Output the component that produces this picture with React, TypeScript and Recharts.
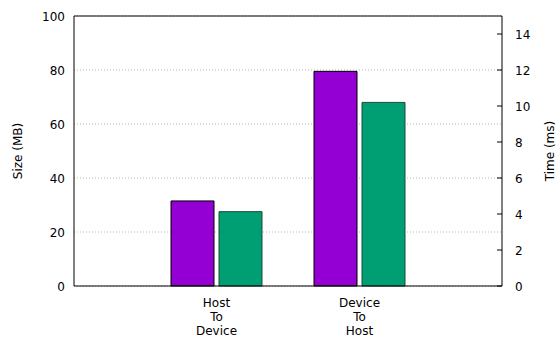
import React from 'react';
import { BarChart, Bar, XAxis, YAxis, CartesianGrid, ReferenceLine } from 'recharts';

const categories = ['Host\nTo\nDevice', 'Device\nTo\nHost'];
const sizeMB = [31.5, 79.5];
const timeMs = [4.13, 10.2];
const leftTicks = [0, 20, 40, 60, 80, 100];
const rightTicks = [0, 2, 4, 6, 8, 10, 12, 14];

const data = categories.map((c, i) => ({ name: c, size: sizeMB[i], time: timeMs[i] }));

const FONT = 'DejaVu Sans';

const XTick = (props: any) => {
  const { x, y, payload } = props;
  const lines = String(payload.value).split('\n');
  return (
    <text x={x} y={y} textAnchor="middle" fontFamily={FONT} fontSize={12} fill="#000">
      {lines.map((l, i) => (
        <tspan key={i} x={x} y={y + 12.5 + i * 14}>{l}</tspan>
      ))}
    </text>
  );
};

const RightTick = (props: any) => {
  const { x, y, payload } = props;
  return (
    <g>
      <line x1={x - 18} x2={x - 13} y1={y} y2={y} stroke="#000" strokeWidth={1} />
      <text x={x} y={y} dy={4.5} textAnchor="start" fontFamily={FONT} fontSize={12} fill="#000">
        {payload.value}
      </text>
    </g>
  );
};

const LeftTick = (props: any) => {
  const { x, y, payload } = props;
  return (
    <text x={x} y={y} dy={4.5} textAnchor="end" fontFamily={FONT} fontSize={12} fill="#000">
      {payload.value}
    </text>
  );
};

const AxisTitle = (cx: number, text: string) => (props: any) => {
  const vb = props.viewBox;
  const cy = vb.y + vb.height / 2;
  return (
    <text
      x={cx}
      y={cy}
      textAnchor="middle"
      dominantBaseline="central"
      transform={`rotate(-90, ${cx}, ${cy})`}
      fontFamily={FONT}
      fontSize={12}
      fill="#000"
    >
      {text}
    </text>
  );
};

export default function App() {
  return (
    <div style={{ position: 'absolute', left: 0, top: 0, background: '#fff' }}>
      <BarChart
        width={556}
        height={337}
        data={data}
        margin={{ top: 16, right: 0, bottom: 0, left: 0 }}
        barSize={43}
        barGap={5}
      >
        <CartesianGrid
          vertical={false}
          yAxisId="left"
          stroke="#b8b8b8"
          strokeDasharray="1 2"
        />
        <XAxis
          dataKey="name"
          height={51}
          padding={{ left: 71, right: 71 }}
          tickLine={false}
          axisLine={{ stroke: '#000', strokeWidth: 1 }}
          tick={<XTick />}
          interval={0}
        />
        <YAxis
          yAxisId="left"
          orientation="left"
          width={74}
          domain={[0, 100]}
          ticks={leftTicks}
          tickLine={false}
          tickSize={0}
          tickMargin={9}
          axisLine={{ stroke: '#000', strokeWidth: 1 }}
          tick={<LeftTick />}
          label={{ content: AxisTitle(18, 'Size (MB)') }}
        />
        <YAxis
          yAxisId="right"
          orientation="right"
          width={54}
          domain={[0, 15]}
          ticks={rightTicks}
          tickLine={false}
          tickSize={0}
          tickMargin={13}
          axisLine={{ stroke: '#000', strokeWidth: 1 }}
          tick={<RightTick />}
          label={{ content: AxisTitle(550, 'Time (ms)') }}
        />
        <ReferenceLine yAxisId="left" y={100} stroke="#000" strokeWidth={1} />
        <Bar yAxisId="left" dataKey="size" fill="#9400D3" stroke="#000" strokeWidth={1} isAnimationActive={false} />
        <Bar yAxisId="right" dataKey="time" fill="#009E73" stroke="#1a4a3a" strokeWidth={1} isAnimationActive={false} />
      </BarChart>
    </div>
  );
}
